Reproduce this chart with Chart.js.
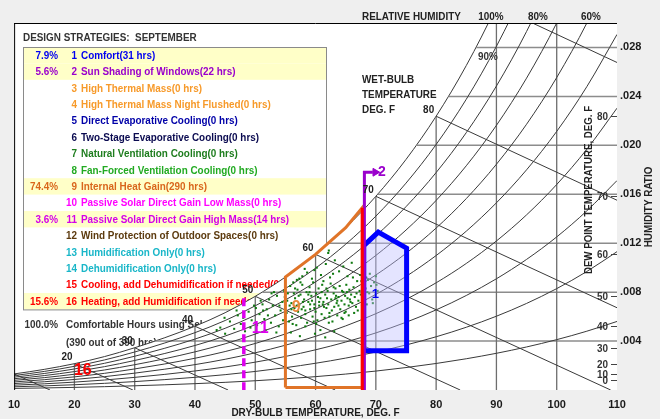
<!DOCTYPE html>
<html>
<head>
<meta charset="utf-8">
<script src="https://cdn.jsdelivr.net/npm/chart.js@4.4.1/dist/chart.umd.min.js"></script>
<style>
  html, body { margin: 0; padding: 0; background: #efefef; }
  canvas { display: block; }
</style>
</head>
<body>
<canvas id="psychro" width="660" height="419"></canvas>
<script>
// saturation humidity ratio (lb/lb, sea level) every 5 F
const satTemps = [0, 5, 10, 15, 20, 25, 30, 35, 40, 45, 50, 55, 60, 65, 70, 75, 80, 85, 90, 95, 100, 105, 110];
const satW = [0.000787, 0.001020, 0.001315, 0.001687, 0.002152, 0.002733, 0.003454, 0.004275, 0.005213,
  0.006318, 0.007658, 0.009234, 0.011087, 0.013267, 0.015832, 0.018844, 0.022379, 0.026520, 0.031375,
  0.037070, 0.043767, 0.051660, 0.060983];

const rhLevels = [10, 20, 30, 40, 50, 60, 70, 80, 90];
const wetBulbTemps = [10, 20, 30, 40, 50, 60, 70, 80, 90];
const wetBulbLabels = [20, 30, 40, 50, 60, 70, 80];
const dryBulbLines = [20, 30, 40, 50, 60, 70, 80, 90, 100];
const ratioLines = [0.004, 0.008, 0.012, 0.016, 0.020, 0.024, 0.028];
const dewPointTicks = [0, 10, 20, 30, 40, 50, 60, 70, 80];

// legend
const strategyNames = ['Comfort', 'Sun Shading of Windows', 'High Thermal Mass', 'High Thermal Mass Night Flushed',
  'Direct Evaporative Cooling', 'Two-Stage Evaporative Cooling', 'Natural Ventilation Cooling',
  'Fan-Forced Ventilation Cooling', 'Internal Heat Gain', 'Passive Solar Direct Gain Low Mass',
  'Passive Solar Direct Gain High Mass', 'Wind Protection of Outdoor Spaces', 'Humidification Only',
  'Dehumidification Only', 'Cooling, add Dehumidification if needed', 'Heating, add Humidification if needed'];
const strategyHours = [31, 22, 0, 0, 0, 0, 0, 0, 290, 0, 14, 0, 0, 0, 0, 61];
const strategyPercent = [7.9, 5.6, null, null, null, null, null, null, 74.4, null, 3.6, null, null, null, null, 15.6];
const strategyColors = ['#0000f0', '#9a00cc', '#f79a2a', '#f79a2a', '#0000a8', '#0a0a50', '#1e7d1e', '#22aa22',
  '#d9661c', '#ff00ff', '#d400e8', '#5c3a0e', '#19b6c8', '#19b6c8', '#ff0000', '#ff0000'];
const comfortPercent = 100.0, comfortHours = 390, totalHours = 390;

// strategy zones (dry bulb F, humidity ratio)
const comfortZone = [[68.0, 0.0032], [68.0, 0.0118], [70.4, 0.0129], [75.1, 0.0116], [75.1, 0.0032], [68.0, 0.0032]];
const heatGainZone = [[55, 0.0002], [55, 0.009234], [60, 0.011087], [65, 0.013267], [67.75, 0.0149], [67.75, 0.0002], [55, 0.0002]];
const sunShadeLine = [[68.1, 0], [68.1, 0.0178], [69.5, 0.0178]];
const sunShadeArrow = [[69.9, 0.0178]];
const heatingEdge = [[67.75, 0.0149], [67.75, 0]];
const solarMassEdge = [[48.1, 0.0075], [48.1, 0]];
const zoneLabels = [
  { text: '1', t: 69.9, w: 0.0078, color: '#0000f0', size: 13 },
  { text: '2', t: 71.0, w: 0.0178, color: '#9a00cc', size: 14 },
  { text: '9', t: 56.8, w: 0.0067, color: '#e8883c', size: 16 },
  { text: '11', t: 50.8, w: 0.0050, color: '#dd00ee', size: 16 },
  { text: '16', t: 21.4, w: 0.00155, color: '#ff0000', size: 16 }
];

// hourly weather points for September
const hourDryBulb = [44.2, 45.0, 45.8, 46.5, 47.1, 47.6, 48.3, 48.9, 49.4, 49.8, 44.9, 46.9, 48.0, 49.2, 43.6,
  50.3, 50.7, 51.2, 51.5, 51.9, 52.3, 52.6, 52.9, 53.3, 53.6, 53.9, 54.2, 54.5, 54.8, 50.9, 51.7, 52.1, 53.1, 54.0, 54.6, 50.1, 53.5, 52.7, 51.3, 54.9,
  55.2, 55.4, 55.6, 55.8, 56.0, 56.1, 56.3, 56.5, 56.6, 56.8, 57.0, 57.1, 57.3, 57.5, 57.6, 57.8, 58.0, 58.1, 58.3, 58.5,
  58.6, 58.8, 59.0, 59.1, 59.3, 59.5, 59.6, 59.8, 60.0, 60.1, 60.3, 60.5, 60.6, 60.8, 61.0, 61.1, 61.3, 61.5, 61.6, 61.8,
  62.0, 62.1, 62.3, 62.5, 62.6, 62.8, 63.0, 63.1, 63.3, 63.5, 63.6, 63.8, 64.0, 64.1, 64.3, 64.5, 64.6, 64.8, 65.0, 65.1,
  65.3, 65.5, 65.6, 65.8,
  55.3, 56.0, 56.4, 56.9, 57.5, 57.9, 58.3, 59.0, 59.4, 59.8, 60.4, 61.0, 61.4, 61.9, 62.3, 63.0, 63.4, 63.8, 64.4, 64.9, 65.5, 65.9,
  55.7, 56.6, 57.7, 58.8, 59.7, 60.6, 61.8, 62.7, 63.6, 64.8, 65.7,
  56.2, 58.3, 60.1, 62.2, 64.3, 57.2, 59.1, 61.2, 63.3, 65.2,
  56.9, 57.8, 58.6, 59.4, 60.2, 60.9, 61.7, 62.4, 63.2, 63.9, 64.6, 65.3, 58.2, 61.3, 62.9, 66.0, 59.8, 57.3, 62.1, 62.2,
  66.1, 66.3, 66.5, 66.7, 66.9, 67.1, 67.3, 67.5, 67.7, 67.9, 68.1, 68.3, 68.5, 68.7, 68.9, 69.2, 69.4, 69.7, 70.0, 70.3,
  66.2, 66.8, 67.4, 68.0, 68.6, 69.0, 69.5, 70.1, 66.4, 67.0, 67.6, 68.4,
  57.4, 59.9, 61.6, 63.1, 55.9, 60.8];
const hourHumRatio = [5.1, 4.6, 5.6, 5.0, 6.1, 5.4, 4.8, 6.4, 5.7, 6.9, 5.9, 6.5, 5.9, 5.1, 4.9,
  5.3, 6.2, 7.0, 5.8, 6.6, 7.4, 5.5, 6.9, 6.1, 7.7, 5.2, 6.5, 7.2, 8.1, 7.3, 4.9, 6.1, 8.0, 6.9, 5.7, 6.7, 4.7, 7.9, 6.5, 7.6,
  6.3, 7.9, 5.6, 8.5, 7.1, 6.0, 8.8, 6.7, 7.5, 5.3, 8.2, 6.4, 7.0, 7.8, 5.9, 8.6, 6.8, 7.4, 6.2, 8.0,
  5.5, 7.2, 8.4, 6.6, 7.7, 6.0, 8.8, 7.0, 6.4, 7.9, 5.7, 8.3, 6.9, 7.5, 6.2, 8.6, 7.2, 5.9, 7.8, 6.7,
  8.1, 7.0, 6.3, 8.7, 7.4, 5.6, 7.9, 6.8, 8.3, 7.1, 6.1, 7.6, 8.5, 6.6, 7.3, 5.8, 8.0, 7.0, 6.4, 8.6,
  7.5, 6.9, 8.2, 7.2,
  7.3, 6.6, 7.9, 6.9, 8.8, 7.2, 6.5, 8.0, 7.3, 6.7, 7.6, 8.0, 6.8, 7.5, 6.0, 8.4, 7.7, 6.9, 8.1, 7.7, 6.1, 7.8,
  6.9, 8.3, 6.6, 7.8, 5.6, 7.2, 8.3, 6.5, 7.3, 6.3, 7.4,
  5.4, 5.2, 5.4, 5.5, 5.9, 7.7, 7.0, 7.0, 7.5, 8.0,
  9.0, 9.3, 9.6, 9.1, 10.0, 9.4, 10.3, 9.2, 10.6, 9.7, 10.1, 9.3, 9.9, 8.9, 9.5, 10.4, 9.8, 9.1, 11.2, 11.4,
  7.1, 8.4, 7.6, 6.8, 8.9, 7.3, 8.1, 7.8, 6.9, 8.6, 7.5, 8.3, 7.0, 9.0, 7.9, 8.5, 7.4, 8.8, 9.3, 8.1,
  9.2, 7.9, 9.4, 6.7, 8.0, 9.5, 7.1, 8.6, 6.3, 6.5, 8.9, 9.2,
  4.4, 4.6, 4.3, 4.8, 4.7, 4.9].map(v => v / 1000);

const P_ATM = 14.696;
const satAt = t => satW[satTemps.indexOf(t)];
const vapourPressure = w => P_ATM * w / (0.621945 + w);
function rhRatio(rh, w) {
  const p = rh / 100 * vapourPressure(w);
  return 0.621945 * p / (P_ATM - p);
}
function dewPointOf(w) {
  for (let i = 1; i < satW.length; i++) {
    if (satW[i] >= w) {
      const f = Math.log(w / satW[i - 1]) / Math.log(satW[i] / satW[i - 1]);
      return satTemps[i - 1] + f * (satTemps[i] - satTemps[i - 1]);
    }
  }
  return 110;
}
const pts = arr => arr.map(([x, y]) => ({ x, y }));

const FONT = '"Liberation Sans", Arial, sans-serif';
Chart.defaults.font.family = FONT;

function txt(ctx, s, x, y, o = {}) {
  ctx.save();
  ctx.translate(x, y);
  if (o.rot) ctx.rotate(o.rot);
  ctx.scale(o.sx || 0.9, 1);
  ctx.font = `${o.weight || 'bold'} ${o.size || 11}px ${FONT}`;
  ctx.fillStyle = o.color || '#222';
  ctx.textAlign = o.align || 'left';
  ctx.textBaseline = o.base || 'middle';
  ctx.fillText(s, 0, 0);
  ctx.restore();
}

function drawLegend(ctx) {
  const L = 23, R = 326, T = 47, H = 16.4;
  txt(ctx, 'DESIGN STRATEGIES:  SEPTEMBER', L, 38, { color: '#333' });
  ctx.save();
  ctx.fillStyle = '#fff';
  ctx.fillRect(L, T, R - L, H * strategyNames.length);
  strategyNames.forEach((name, i) => {
    const top = T + i * H, mid = top + H / 2 + 0.5;
    const c = strategyColors[i];
    if (strategyPercent[i] !== null) {
      ctx.fillStyle = '#ffffc8';
      ctx.fillRect(L + 1, top, R - L - 1, H);
      txt(ctx, strategyPercent[i].toFixed(1) + '%', 58, mid, { color: c, align: 'right' });
    }
    txt(ctx, String(i + 1), 77, mid, { color: c, align: 'right' });
    txt(ctx, `${name}(${strategyHours[i]} hrs)`, 81, mid, { color: c });
  });
  ctx.strokeStyle = '#8a8a8a';
  ctx.lineWidth = 1;
  ctx.strokeRect(L + 0.5, T + 0.5, R - L, H * strategyNames.length);
  ctx.restore();
  txt(ctx, comfortPercent.toFixed(1) + '%', 58, 325, { color: '#333', align: 'right' });
  txt(ctx, 'Comfortable Hours using Selected Strategies', 66, 325, { color: '#333' });
  txt(ctx, `(${comfortHours} out of ${totalHours} hrs)`, 66, 343, { color: '#333' });
}

const psychroPlugin = {
  id: 'psychro',
  beforeDraw(chart) {
    const { ctx, chartArea: a } = chart;
    ctx.save();
    ctx.fillStyle = '#ffffff';
    ctx.fillRect(a.left, a.top, a.right - a.left, a.bottom - a.top);
    ctx.restore();
  },
  beforeDatasetsDraw(chart) {
    drawLegend(chart.ctx);
  },
  afterDatasetsDraw(chart) {
    const { ctx, chartArea: a, scales: { x, y } } = chart;
    // wet-bulb labels sit on the saturation curve
    wetBulbLabels.forEach(t => {
      txt(ctx, String(t), x.getPixelForValue(t) - 2, y.getPixelForValue(satAt(t)) - 1,
        { align: 'right', base: 'bottom', color: '#222' });
    });
    // dew point scale along the right edge
    ctx.save();
    ctx.strokeStyle = '#444';
    ctx.lineWidth = 1;
    dewPointTicks.forEach(t => {
      const py = Math.round(y.getPixelForValue(satAt(t))) + 0.5;
      ctx.beginPath();
      ctx.moveTo(a.right - 6, py);
      ctx.lineTo(a.right, py);
      ctx.stroke();
      txt(ctx, String(t), a.right - 9, py, { align: 'right', color: '#333' });
    });
    ctx.restore();
    zoneLabels.forEach(l => {
      txt(ctx, l.text, x.getPixelForValue(l.t), y.getPixelForValue(l.w),
        { align: 'center', size: l.size, color: l.color, sx: 1 });
    });
    ctx.save();
    ctx.strokeStyle = '#000';
    ctx.lineWidth = 1;
    ctx.beginPath();
    ctx.moveTo(a.left, a.top + 0.5);
    ctx.lineTo(a.right, a.top + 0.5);
    ctx.moveTo(a.left + 0.5, a.top);
    ctx.lineTo(a.left + 0.5, a.bottom);
    ctx.stroke();
    ctx.restore();
    txt(ctx, 'RELATIVE HUMIDITY', 362, 17);
    txt(ctx, '100%', 491, 17, { align: 'center' });
    txt(ctx, '80%', 538, 17, { align: 'center' });
    txt(ctx, '60%', 591, 17, { align: 'center' });
    txt(ctx, '90%', 488, 57, { align: 'center', color: '#333' });
    txt(ctx, 'WET-BULB', 362, 80);
    txt(ctx, 'TEMPERATURE', 362, 95);
    txt(ctx, 'DEG. F', 362, 110);
    txt(ctx, 'DEW POINT TEMPERATURE, DEG. F', 589, 190, { align: 'center', rot: -Math.PI / 2, sx: 0.88 });
    txt(ctx, 'HUMIDITY RATIO', 649, 207, { align: 'center', rot: -Math.PI / 2 });
  }
};

const datasets = [];
const curve = (data, extra) => Object.assign({
  type: 'line', data, pointRadius: 0, fill: false, borderColor: '#3a3a3a', borderWidth: 1
}, extra);

// saturation curve; white beneath it hides the legend text it crosses
datasets.push(curve(satTemps.map((t, i) => ({ x: t, y: satW[i] })),
  { backgroundColor: '#ffffff', fill: 'origin', cubicInterpolationMode: 'monotone', order: 100 }));
dryBulbLines.forEach(t => datasets.push(curve(pts([[t, satAt(t)], [t, 0]]),
  { borderColor: '#6e6e6e', borderWidth: 1.3, order: 90 })));
ratioLines.forEach(w => datasets.push(curve(pts([[dewPointOf(w), w], [110, w]]),
  { borderColor: '#8c8c8c', borderWidth: 1.5, order: 90 })));
rhLevels.forEach(rh => datasets.push(curve(satTemps.map((t, i) => ({ x: t, y: rhRatio(rh, satW[i]) })),
  { cubicInterpolationMode: 'monotone', order: 80 })));
wetBulbTemps.forEach(t => {
  const ws = satAt(t);
  const tEnd = t + (1093 - 0.556 * t) * ws / 0.240;
  datasets.push(curve(pts([[t, ws], [tEnd, 0]]), { order: 80 }));
});
datasets.push({
  type: 'scatter', data: hourDryBulb.map((t, i) => ({ x: t, y: hourHumRatio[i] })),
  pointStyle: 'rect', pointRadius: 1.45, borderWidth: 0, backgroundColor: '#107a10', order: 70
});
datasets.push(curve(pts(heatGainZone), { borderColor: '#e07428', borderWidth: 3, order: 60 }));
datasets.push(curve(pts(solarMassEdge), { borderColor: '#dd00ee', borderWidth: 3.5, borderDash: [8, 4], order: 60 }));
datasets.push(curve(pts(comfortZone), {
  borderColor: '#0000ff', borderWidth: 5, fill: 'shape', backgroundColor: 'rgba(190,190,255,0.42)',
  borderJoinStyle: 'miter', order: 55
}));
datasets.push(curve(pts(sunShadeLine), { borderColor: '#9a00cc', borderWidth: 3, order: 50 }));
datasets.push({
  type: 'scatter', data: pts(sunShadeArrow), pointStyle: 'triangle', rotation: 90, pointRadius: 4.5,
  backgroundColor: '#9a00cc', borderColor: '#9a00cc', borderWidth: 1, order: 50
});
datasets.push(curve(pts(heatingEdge), { borderColor: '#ff0000', borderWidth: 3, order: 45 }));

new Chart(document.getElementById('psychro'), {
  type: 'line',
  data: { datasets },
  plugins: [psychroPlugin],
  options: {
    responsive: false,
    animation: false,
    events: [],
    layout: { padding: { left: 14, top: 23, right: 0, bottom: 0 } },
    elements: { line: { capBezierPoints: false } },
    plugins: { legend: { display: false }, tooltip: { enabled: false } },
    scales: {
      x: {
        type: 'linear', min: 10, max: 110,
        grid: { display: false, drawTicks: false }, border: { display: false },
        ticks: { stepSize: 10, padding: 8, color: '#1a1a1a', font: { weight: 'bold', size: 11 } },
        title: {
          display: true, text: 'DRY-BULB TEMPERATURE, DEG. F', color: '#1a1a1a',
          font: { weight: 'bold', size: 10 }, padding: { top: 0, bottom: 0 }
        },
        afterFit: s => { s.height = 29; }
      },
      y: {
        type: 'linear', position: 'right', min: 0, max: 0.030,
        grid: { display: false, drawTicks: false }, border: { display: false },
        ticks: {
          stepSize: 0.004, padding: 3, color: '#1a1a1a', font: { weight: 'bold', size: 11 },
          callback: v => (v < 0.001 || v > 0.0295) ? '' : '.' + String(Math.round(v * 1000)).padStart(3, '0')
        },
        afterFit: s => { s.width = 43; }
      }
    }
  }
});
</script>
</body>
</html>
